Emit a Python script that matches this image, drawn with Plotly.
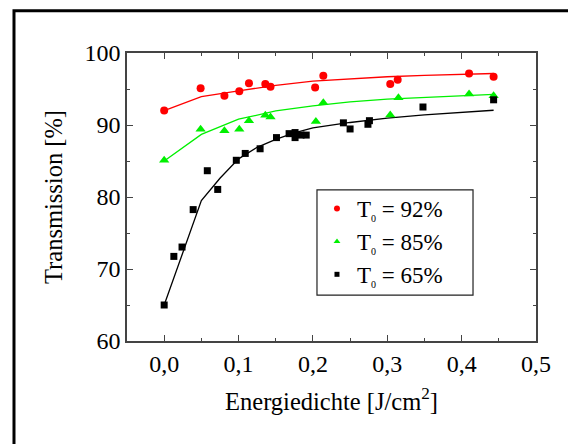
import plotly.graph_objects as go

# measured points (energy density J/cm^2, transmission %)
x_92 = [0.0, 0.049, 0.081, 0.101, 0.114, 0.136, 0.143, 0.203, 0.214, 0.304, 0.314, 0.410, 0.443]
y_92 = [92.0, 95.1, 94.05, 94.7, 95.8, 95.7, 95.3, 95.2, 96.85, 95.7, 96.3, 97.15, 96.7]

x_85 = [0.0, 0.049, 0.081, 0.101, 0.114, 0.136, 0.143, 0.204, 0.214, 0.304, 0.315, 0.410, 0.443]
y_85 = [85.1, 89.4, 89.2, 89.4, 90.6, 91.35, 91.1, 90.5, 93.1, 91.4, 93.8, 94.3, 94.05]

x_65 = [0.0, 0.013, 0.024, 0.039, 0.058, 0.072, 0.097, 0.109, 0.129, 0.151, 0.168,
        0.176, 0.176, 0.184, 0.191, 0.241, 0.250, 0.274, 0.276, 0.348, 0.443]
y_65 = [65.0, 71.75, 73.05, 78.25, 83.65, 81.05, 85.1, 86.05, 86.7, 88.25, 88.8,
        88.95, 88.25, 88.6, 88.6, 90.3, 89.45, 90.1, 90.6, 92.5, 93.5]

# fit curves
x_fit = [0.0, 0.05, 0.1, 0.15, 0.2, 0.25, 0.3, 0.35, 0.4, 0.443]
fit_92 = [92.0, 93.95, 94.75, 95.5, 96.1, 96.45, 96.7, 96.9, 97.05, 97.15]
fit_85 = [85.0, 88.7, 90.8, 91.95, 92.65, 93.2, 93.6, 93.85, 94.05, 94.25]
x_fit65 = [0.0, 0.05, 0.075, 0.1, 0.125, 0.15, 0.175, 0.2, 0.25, 0.3, 0.35, 0.4, 0.443]
fit_65 = [65.0, 79.5, 82.6, 85.3, 86.9, 88.0, 88.9, 89.6, 90.35, 90.95, 91.4, 91.75, 92.05]

labels = ["T<sub><span style='font-size:10px'>0</span></sub> = 92%",
          "T<sub><span style='font-size:10px'>0</span></sub> = 85%",
          "T<sub><span style='font-size:10px'>0</span></sub> = 65%"]

font = "Liberation Serif, Times New Roman, serif"
fs = 24
green = '#00f000'
fig = go.Figure()

# fit lines
fig.add_trace(go.Scatter(x=x_fit, y=fit_92, mode='lines', line=dict(color='#ff0000', width=1.3), showlegend=False))
fig.add_trace(go.Scatter(x=x_fit, y=fit_85, mode='lines', line=dict(color=green, width=1.3), showlegend=False))
fig.add_trace(go.Scatter(x=x_fit65, y=fit_65, mode='lines', line=dict(color='black', width=1.3), showlegend=False))

# data points
fig.add_trace(go.Scatter(x=x_92, y=y_92, mode='markers', showlegend=False,
                         marker=dict(symbol='circle', size=8, color='#ff0000')))
fig.add_trace(go.Scatter(x=x_85, y=y_85, mode='markers', showlegend=False,
                         marker=dict(symbol='triangle-up', size=9, color=green)))
fig.add_trace(go.Scatter(x=x_65, y=y_65, mode='markers', showlegend=False,
                         marker=dict(symbol='square', size=7, color='black')))

# legend entries (smaller symbols like the original)
fig.add_trace(go.Scatter(x=[None], y=[None], mode='markers', name=labels[0],
                         marker=dict(symbol='circle', size=6, color='#ff0000')))
fig.add_trace(go.Scatter(x=[None], y=[None], mode='markers', name=labels[1],
                         marker=dict(symbol='triangle-up', size=6, color=green)))
fig.add_trace(go.Scatter(x=[None], y=[None], mode='markers', name=labels[2],
                         marker=dict(symbol='square', size=5, color='black')))

axis_common = dict(
    showline=True, linecolor='#444', linewidth=1.5, mirror='allticks',
    ticks='inside', ticklen=6, tickwidth=1, tickcolor='#444',
    showgrid=False, zeroline=False,
    tickfont=dict(family=font, size=fs, color='black'),
)

# the page body adds an 8px offset, margins compensate for it
fig.update_layout(
    width=576, height=444,
    margin=dict(l=119, r=48, t=45, b=111),
    paper_bgcolor='white', plot_bgcolor='white',
    font=dict(family=font, size=fs, color='black'),
    separators=', ',
    xaxis=dict(range=[-0.05, 0.5], tickvals=[0, 0.1, 0.2, 0.3, 0.4, 0.5], tickformat='.1f',
               minor=dict(ticks='inside', ticklen=3, dtick=0.05, tick0=0, tickcolor='#444'),
               title=dict(text="Energiedichte [J/cm<sup>2</sup>]", standoff=17,
                          font=dict(family=font, size=24.5)),
               **axis_common),
    yaxis=dict(range=[60, 100], tickvals=[60, 70, 80, 90, 100],
               minor=dict(ticks='inside', ticklen=3, dtick=5, tick0=60, tickcolor='#444'),
               title=dict(text="Transmission [%]", standoff=15,
                          font=dict(family=font, size=24.5)),
               **axis_common),
    legend=dict(x=0.4645, y=0.5345, xanchor='left', yanchor='top',
                borderwidth=0, bgcolor='rgba(0,0,0,0)',
                font=dict(family=font, size=23), tracegroupgap=0),
    shapes=[
        # outer frame
        dict(type='rect', xref='paper', yref='paper',
             x0=-0.2763, x1=1.093, y0=-0.5, y1=1.147,
             line=dict(color='black', width=3)),
        # legend box
        dict(type='rect', xref='paper', yref='paper',
             x0=0.4645, x1=0.846, y0=0.159, y1=0.5244,
             line=dict(color='#222', width=1.2)),
    ],
)

fig.write_html("out.html")
